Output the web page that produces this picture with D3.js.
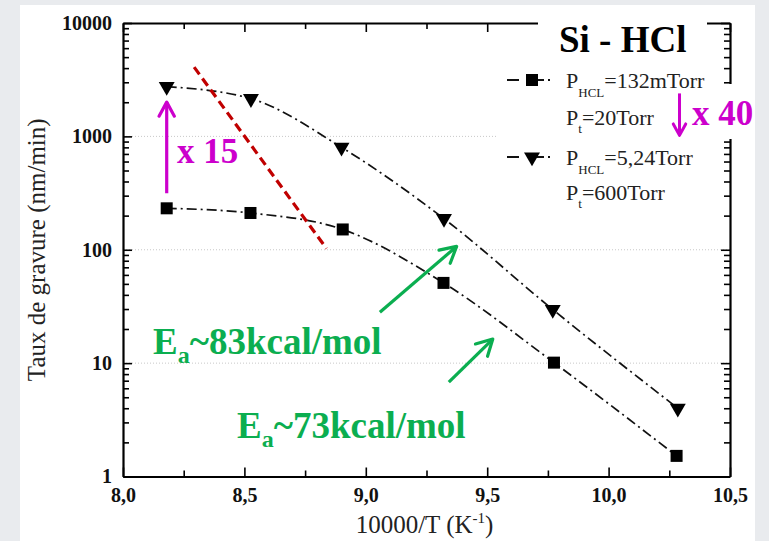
<!DOCTYPE html>
<html><head><meta charset="utf-8">
<script src="https://cdn.jsdelivr.net/npm/d3@7"></script>
<style>
html,body{margin:0;padding:0;background:#e9ebee;}
svg{display:block;}
text{font-family:"Liberation Serif","Times New Roman",serif;}
</style></head>
<body>
<svg id="chart" width="769" height="541"></svg>
<script>
// ---- data ----
const invT_low  = [8.18, 8.525, 8.905, 9.32, 9.775, 10.28];
const rate_low  = [232, 211, 151, 51, 10.1, 1.52];
const invT_high = [8.18, 8.527, 8.90, 9.322, 9.77, 10.285];
const rate_high = [2750, 2150, 800, 188, 29.7, 4.0];
const xTickValues = [8.0, 8.5, 9.0, 9.5, 10.0, 10.5];
const yTickValues = [1, 10, 100, 1000, 10000];
const xTickLabels = ["8,0","8,5","9,0","9,5","10,0","10,5"];
const yTickLabels = ["1","10","100","1000","10000"];
const redLineX = [8.293, 8.838];
const redLineY = [4080, 102.5];

const svg = d3.select("#chart");
svg.append("rect").attr("x",20).attr("y",5).attr("width",735).attr("height",536).attr("fill","#fff");

const L=123, R=730, T=23, B=476.5;
const x = d3.scaleLinear().domain([8.0,10.5]).range([L,R]);
const y = d3.scaleLog().domain([1,10000]).range([B,T]);

// gridlines
svg.append("g").selectAll("line").data([10,100,1000]).join("line")
  .attr("x1",L).attr("x2",R).attr("y1",d=>y(d)).attr("y2",d=>y(d))
  .attr("stroke","#c8c8c8").attr("stroke-width",1).attr("stroke-dasharray","1,2");

// minor tick values
const yMinor = [];
for (let e=0;e<4;e++) for (let m=2;m<=9;m++) yMinor.push(m*Math.pow(10,e));
const xMinor = [8.25,8.75,9.25,9.75,10.25];

function styleAxis(g){
  g.select(".domain").attr("stroke-width",2.2);
  g.selectAll(".tick line").attr("stroke-width",1.6);
}
// bottom
const gB = svg.append("g").attr("transform",`translate(0,${B})`)
  .call(d3.axisBottom(x).tickValues(xTickValues).tickSize(-9).tickSizeOuter(0).tickPadding(11)
    .tickFormat((d,i)=>xTickLabels[i]));
styleAxis(gB);
gB.selectAll("text").attr("font-size",20).attr("font-weight","bold").attr("fill","#111")
  .attr("font-family","Liberation Serif");
svg.append("g").attr("transform",`translate(0,${B})`)
  .call(d3.axisBottom(x).tickValues(xMinor).tickSize(-6).tickFormat(""))
  .call(g=>{g.select(".domain").remove(); g.selectAll("line").attr("stroke-width",1.6);});
// top
const gT = svg.append("g").attr("transform",`translate(0,${T})`)
  .call(d3.axisTop(x).tickValues(xTickValues).tickSize(-9).tickSizeOuter(0).tickFormat(""));
styleAxis(gT);
svg.append("g").attr("transform",`translate(0,${T})`)
  .call(d3.axisTop(x).tickValues(xMinor).tickSize(-6).tickFormat(""))
  .call(g=>{g.select(".domain").remove(); g.selectAll("line").attr("stroke-width",1.6);});
// left
const gL = svg.append("g").attr("transform",`translate(${L},0)`)
  .call(d3.axisLeft(y).tickValues(yTickValues).tickSize(-9).tickSizeOuter(0).tickPadding(11)
    .tickFormat((d,i)=>yTickLabels[i]));
styleAxis(gL);
gL.selectAll("text").attr("font-size",20).attr("font-weight","bold").attr("fill","#111")
  .attr("font-family","Liberation Serif");
svg.append("g").attr("transform",`translate(${L},0)`)
  .call(d3.axisLeft(y).tickValues(yMinor).tickSize(-6).tickFormat(""))
  .call(g=>{g.select(".domain").remove(); g.selectAll("line").attr("stroke-width",1.6);});
// right
const gR = svg.append("g").attr("transform",`translate(${R},0)`)
  .call(d3.axisRight(y).tickValues(yTickValues).tickSize(-9).tickSizeOuter(0).tickFormat(""));
styleAxis(gR);
svg.append("g").attr("transform",`translate(${R},0)`)
  .call(d3.axisRight(y).tickValues(yMinor).tickSize(-6).tickFormat(""))
  .call(g=>{g.select(".domain").remove(); g.selectAll("line").attr("stroke-width",1.6);});

// axis titles
svg.append("text").attr("transform",`translate(45,${(T+B)/2}) rotate(-90)`)
  .attr("text-anchor","middle").attr("font-size",25).attr("fill","#222")
  .text("Taux de gravure (nm/min)");
const xt = svg.append("text").attr("x",(L+R)/2-2).attr("y",533).attr("text-anchor","middle")
  .attr("font-size",25).attr("fill","#222");
xt.append("tspan").text("10000/T (K");
xt.append("tspan").attr("font-size",15).attr("dy",-10).text("-1");
xt.append("tspan").attr("dy",10).text(")");

// data lines
const dashDot = "10,4,2,4";
const line = d3.line().x(d=>x(d[0])).y(d=>y(d[1])).curve(d3.curveMonotoneX);
const lowPts = invT_low.map((v,i)=>[v,rate_low[i]]);
const highPts = invT_high.map((v,i)=>[v,rate_high[i]]);
[lowPts,highPts].forEach(p=>{
  svg.append("path").attr("d",line(p)).attr("fill","none").attr("stroke","#111")
    .attr("stroke-width",1.7).attr("stroke-dasharray",dashDot);
});
const sq=12;
svg.append("g").selectAll("rect").data(lowPts).join("rect")
  .attr("x",d=>x(d[0])-sq/2).attr("y",d=>y(d[1])-sq/2).attr("width",sq).attr("height",sq).attr("fill","#000");
const tri = d3.symbol().type(d3.symbolTriangle).size(110);
svg.append("g").selectAll("path").data(highPts).join("path")
  .attr("d",tri).attr("transform",d=>`translate(${x(d[0])},${y(d[1])}) rotate(180)`).attr("fill","#000");

// red dashed line
svg.append("line").attr("x1",x(redLineX[0])).attr("y1",y(redLineY[0]))
  .attr("x2",x(redLineX[1])).attr("y2",y(redLineY[1]))
  .attr("stroke","#c00000").attr("stroke-width",3.2).attr("stroke-dasharray","9,5");

// arrow helper
function arrow(x1,y1,x2,y2,color,w,head){
  const g=svg.append("g");
  g.append("line").attr("x1",x1).attr("y1",y1).attr("x2",x2).attr("y2",y2)
    .attr("stroke",color).attr("stroke-width",w);
  const a=Math.atan2(y2-y1,x2-x1), s=0.5;
  const p=[[x2-head*Math.cos(a-s),y2-head*Math.sin(a-s)],[x2,y2],[x2-head*Math.cos(a+s),y2-head*Math.sin(a+s)]];
  g.append("path").attr("d",d3.line()(p)).attr("fill","none").attr("stroke",color)
    .attr("stroke-width",w).attr("stroke-linecap","round").attr("stroke-linejoin","round");
}
const magenta="#cc00cc", green="#0bae50";
// x15
arrow(x(8.18),y(315),x(8.18),y(2005),magenta,3.2,16);
svg.append("text").attr("x",177).attr("y",163).attr("font-size",35).attr("font-weight","bold")
  .attr("fill",magenta).text("x 15");

// legend / title white boxes
svg.append("rect").attr("x",538).attr("y",6).attr("width",169).attr("height",56).attr("fill","#fff");
svg.append("rect").attr("x",498).attr("y",62).attr("width",220).attr("height",145).attr("fill","#fff");
svg.append("rect").attr("x",690).attr("y",84).attr("width",64).attr("height",55).attr("fill","#fff");

svg.append("text").attr("x",559).attr("y",52).attr("font-size",37).attr("font-weight","bold")
  .attr("fill","#000").text("Si - HCl");

function legendRow(cy, marker, main1, sub1, rest1, base2, sub2, rest2){
  svg.append("path").attr("d",`M507,${cy}H558`).attr("stroke","#111").attr("stroke-width",1.8)
    .attr("stroke-dasharray","12,13,12,4,2,100");
  if(marker==="sq") svg.append("rect").attr("x",526).attr("y",cy-6).attr("width",12).attr("height",12).attr("fill","#000");
  else svg.append("path").attr("d",tri).attr("transform",`translate(532,${cy}) rotate(180)`).attr("fill","#000");
  const t1=svg.append("text").attr("x",566).attr("y",cy+8).attr("font-size",22).attr("fill","#222");
  t1.append("tspan").text(main1);
  t1.append("tspan").attr("font-size",13).attr("dy",9).text(sub1);
  t1.append("tspan").attr("dy",-9).text(rest1);
  const t2=svg.append("text").attr("x",566).attr("y",base2).attr("font-size",22).attr("fill","#222");
  t2.append("tspan").text("P");
  t2.append("tspan").attr("font-size",13).attr("dy",8).text(sub2);
  t2.append("tspan").attr("dy",-8).text(rest2);
}
legendRow(80,"sq","P","HCL","=132mTorr",125,"t","=20Torr");
legendRow(157,"tri","P","HCL","=5,24Torr",200,"t","=600Torr");

// x40
arrow(x(10.292),y(2393),x(10.292),y(1021),magenta,3,13);
svg.append("text").attr("x",692).attr("y",125).attr("font-size",35).attr("font-weight","bold")
  .attr("fill",magenta).text("x 40");

// green annotations
arrow(x(9.058),y(28.1),x(9.374),y(107),green,3.2,18);
arrow(x(9.342),y(6.8),x(9.523),y(16.3),green,3.2,18);
function eaText(px,py,val){
  const t=svg.append("text").attr("x",px).attr("y",py).attr("font-size",37).attr("font-weight","bold").attr("fill",green);
  t.append("tspan").text("E");
  t.append("tspan").attr("font-size",24).attr("dy",9).text("a");
  t.append("tspan").attr("dy",-9).text(val);
}
eaText(153,354,"~83kcal/mol");
eaText(237,438,"~73kcal/mol");
</script>
</body></html>
